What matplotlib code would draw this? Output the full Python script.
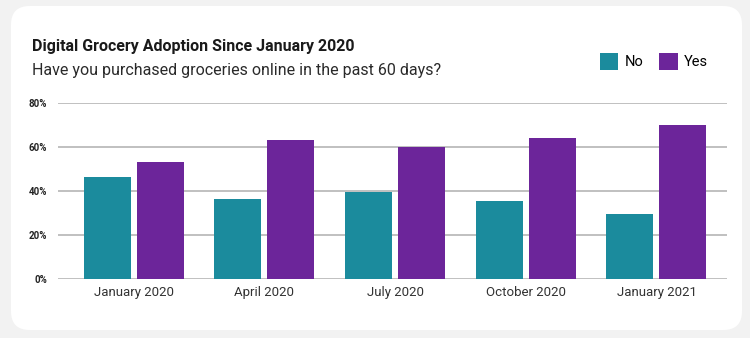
import numpy as np
import matplotlib.pyplot as plt
from matplotlib.patches import FancyBboxPatch

plt.rcParams['font.family'] = ['Roboto', 'DejaVu Sans']

periods = ["January 2020", "April 2020", "July 2020", "October 2020", "January 2021"]
no_vals = [46.6, 36.6, 39.8, 35.6, 29.7]
yes_vals = [53.4, 63.4, 60.2, 64.4, 70.3]
yticks = [0, 20, 40, 60, 80]

teal = "#1b8b9d"
purple = "#6c259a"


def main():
    fig = plt.figure(figsize=(7.5, 3.38), dpi=100)
    fig.patch.set_facecolor("#f2f2f2")

    # white rounded card
    W, H = 750, 338
    card = FancyBboxPatch((11 / W, 8 / H), (742 - 11) / W, (332 - 8) / H,
                          boxstyle="round,pad=0,rounding_size=0.025",
                          transform=fig.transFigure, facecolor="white",
                          edgecolor="none", zorder=-5, mutation_aspect=W / H)
    fig.patches.append(card)

    ax = fig.add_axes([58 / W, 1 - 279 / H, (727 - 58) / W, (279 - 103.3) / H])
    ax.set_facecolor("none")
    ax.set_zorder(2)

    x = np.arange(len(periods))
    w = 0.36
    off = 0.203
    ax.bar(x - off, no_vals, w, color=teal, zorder=3, label="No")
    ax.bar(x + off, yes_vals, w, color=purple, zorder=3, label="Yes")

    ax.set_xlim(-0.58, 4.54)
    ax.set_ylim(0, 80)
    ax.set_yticks(yticks)
    ax.set_yticklabels([f"{v}%" for v in yticks], fontsize=7, fontweight="bold", color="#222222")
    ax.set_xticks(x)
    ax.set_xticklabels(periods, fontsize=9.5, color="#333333")
    ax.tick_params(axis="y", length=0, pad=8)
    ax.tick_params(axis="x", length=0, pad=5)
    ax.grid(axis="y", color="#b5b5b5", linewidth=1.2, zorder=0)
    for s in ax.spines.values():
        s.set_visible(False)

    fig.text(32 / W, 1 - 46 / H, "Digital Grocery Adoption Since January 2020",
             fontsize=11.5, fontweight="bold", color="#1a1a1a", va="center")
    fig.text(32 / W, 1 - 70 / H, "Have you purchased groceries online in the past 60 days?",
             fontsize=11.5, color="#2a2a2a", va="center")

    fig.legend(loc="center left", bbox_to_anchor=(594 / W, 1 - 61.5 / H), ncol=2,
               frameon=False, fontsize=10.5, handlelength=1.25, handleheight=1.5,
               handletextpad=0.45, columnspacing=1.1, borderaxespad=0)

    fig.savefig("out.png", dpi=100, facecolor=fig.get_facecolor())


if __name__ == '__main__':
    main()
